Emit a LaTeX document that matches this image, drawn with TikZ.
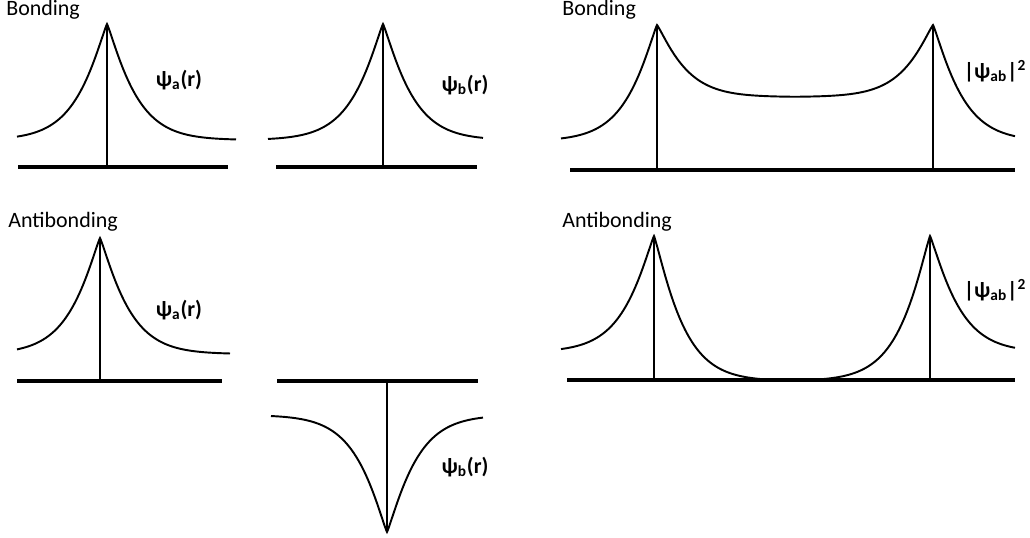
\documentclass[tikz,border=0pt]{standalone}
\usepackage{fontspec}
\setmainfont{Carlito}
\usepackage{tikz}
\tikzset{
  axis/.style={line width=2.3pt},
  stem/.style={line width=0.6pt},
  wave/.style={line width=1.1pt,samples=50},
  title/.style={anchor=base west,inner sep=0pt,font=\fontsize{12.5}{14}\selectfont},
  psi/.style={inner sep=0pt,font=\fontsize{12.5}{14}\selectfont\bfseries}
}
% shape of one side of a peak
\pgfmathdeclarefunction{lobe}{1}{\pgfmathparse{exp(0-pow(#1/30,1.15))}}

\begin{document}
\begin{tikzpicture}[x=0.02cm,y=-0.02cm]
\useasboundingbox (0,0) rectangle (1030,537);

% bonding
\node[title] (bond1) at (6,16) {Bonding};
\node[title] (bond2) at (562,16) {Bonding};
\coordinate (pa) at (107,24);
\coordinate (pb) at (383,24);
\coordinate (pc) at (657,25);
\coordinate (pd) at (933,25);
\draw[axis] (18,167) coordinate (ax1) -- (228,167);
\draw[axis] (276,167) coordinate (ax2) -- (477,167);
\draw[axis] (570,170) coordinate (ax3) -- (1015,170);
\draw[stem] (pa) -- (pa |- ax1);
\draw[stem] (pb) -- (pb |- ax2);
\draw[stem] (pc) -- (pc |- ax3);
\draw[stem] (pd) -- (pd |- ax3);
\draw[wave] plot[domain=90:0.3] ({107-\x},{24+116*(1-lobe(\x))}) -- (pa)
  -- plot[domain=0.3:129] ({107+\x},{24+116*(1-lobe(\x))});
\draw[wave] plot[domain=115:0.3] ({383-\x},{24+116*(1-lobe(\x))}) -- (pb)
  -- plot[domain=0.3:100] ({383+\x},{24+116*(1-lobe(\x))});
\draw[wave] plot[domain=96:0.3] ({657-\x},{25+116*(1-lobe(\x))}) -- (pc)
  -- plot[domain=0.3:138] ({657+\x},{25+72*(1-lobe(\x))})
  -- plot[domain=138:0.3] ({933-\x},{25+72*(1-lobe(\x))}) -- (pd)
  -- plot[domain=0.3:82] ({933+\x},{25+116*(1-lobe(\x))});
\node[psi] (psia1) at (179,80) {ψ\textsubscript{a}(r)};
\node[psi] (psib1) at (465,85) {ψ\textsubscript{b}(r)};
\node[psi] (sq1) at (995,71) {|ψ\textsubscript{ab}|\textsuperscript{2}};

% antibonding
\node[title] (anti1) at (8,227) {Antibonding};
\node[title] (anti2) at (562,227) {Antibonding};
\coordinate (qa) at (100,238);
\coordinate (qb) at (387,532);
\coordinate (qc) at (654,236);
\coordinate (qd) at (930,236);
\draw[axis] (17,381) coordinate (ax4) -- (222,381);
\draw[axis] (277,381) coordinate (ax5) -- (478,381);
\draw[axis] (567,380) coordinate (ax6) -- (1015,380);
\draw[stem] (qa) -- (qa |- ax4);
\draw[stem] (qb) -- (qb |- ax5);
\draw[stem] (qc) -- (qc |- ax6);
\draw[stem] (qd) -- (qd |- ax6);
\draw[wave] plot[domain=83:0.3] ({100-\x},{238+116*(1-lobe(\x))}) -- (qa)
  -- plot[domain=0.3:130] ({100+\x},{238+116*(1-lobe(\x))});
\draw[wave] plot[domain=116:0.3] ({387-\x},{532-117*(1-lobe(\x))}) -- (qb)
  -- plot[domain=0.3:96] ({387+\x},{532-117*(1-lobe(\x))});
\draw[wave] plot[domain=93:0.3] ({654-\x},{236+116*(1-lobe(\x))}) -- (qc)
  -- plot[domain=0.3:138] ({654+\x},{236+145*(1-lobe(\x))})
  -- plot[domain=138:0.3] ({930-\x},{236+145*(1-lobe(\x))}) -- (qd)
  -- plot[domain=0.3:85] ({930+\x},{236+116*(1-lobe(\x))});
\node[psi] (psia2) at (179,310) {ψ\textsubscript{a}(r)};
\node[psi] (psib2) at (465,467) {ψ\textsubscript{b}(r)};
\node[psi] (sq2) at (995,290) {|ψ\textsubscript{ab}|\textsuperscript{2}};
\end{tikzpicture}
\end{document}
